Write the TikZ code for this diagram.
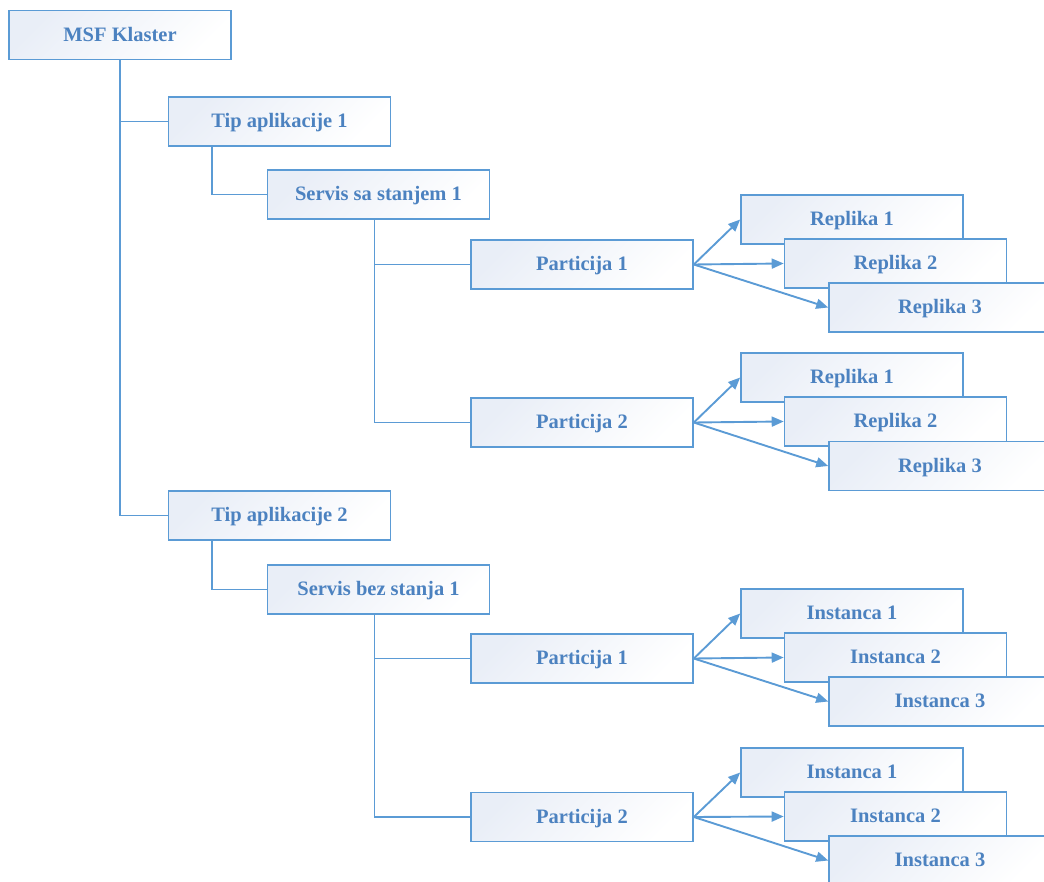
\documentclass[tikz,border=0pt]{standalone}
\usepackage{fontspec}
\setmainfont{Liberation Serif}
\usetikzlibrary{arrows.meta,calc}
\definecolor{boxline}{HTML}{5B9BD5}
\definecolor{boxfill}{HTML}{E9EEF7}
\definecolor{txt}{HTML}{4C82C0}
\begin{document}
\begin{tikzpicture}[x=1pt,y=-1pt,
  box/.style={draw=boxline, line width=1.6pt, minimum width=222pt, minimum height=49pt,
    inner sep=0pt, top color=boxfill, bottom color=white, shading angle=45,
    text height=16pt, text depth=3.6pt,
    font=\fontsize{20.5}{24}\selectfont\bfseries, text=txt},
  link/.style={draw=boxline, line width=1.9pt},
  arr/.style={link, -{Triangle[length=12pt,width=10pt]}}]
\useasboundingbox (0,0) rectangle (1044,882);
\clip (0,0) rectangle (1044,882);

% cluster and application types
\node[box] (msf) at (120,35) {MSF Klaster};
\node[box] (tip1) at (279.5,121.5) {Tip aplikacije 1};
\node[box] (srv1) at (378.5,194.5) {Servis sa stanjem 1};
\node[box] (p11) at (582,264.5) {Particija 1};
\node[box] (p12) at (582,422.5) {Particija 2};
\node[box] (tip2) at (279.5,515.5) {Tip aplikacije 2};
\node[box] (srv2) at (378.5,589.5) {Servis bez stanja 1};
\node[box] (p21) at (582,658.5) {Particija 1};
\node[box] (p22) at (582,817) {Particija 2};

% tree connectors
\draw[link] (msf.south) |- (tip1.west);
\draw[link] (msf.south) |- (tip2.west);
\draw[link] ([xshift=44pt]tip1.south west) |- (srv1.west);
\draw[link] ([xshift=44pt]tip2.south west) |- (srv2.west);
\draw[link] ([xshift=-4pt]srv1.south) |- (p11.west);
\draw[link] ([xshift=-4pt]srv1.south) |- (p12.west);
\draw[link] ([xshift=-4pt]srv2.south) |- (p21.west);
\draw[link] ([xshift=-4pt]srv2.south) |- (p22.west);

% replicas of the stateful service
\node[box] (r11) at (852,219.5) {Replika 1};
\node[box] (r12) at (895.5,263.5) {Replika 2};
\node[box] (r13) at (940,307.5) {Replika 3};
\node[box] (r21) at (852,377.5) {Replika 1};
\node[box] (r22) at (895.5,421.5) {Replika 2};
\node[box] (r23) at (940,466) {Replika 3};

% instances of the stateless service
\node[box] (i11) at (852,613.5) {Instanca 1};
\node[box] (i12) at (895.5,657.5) {Instanca 2};
\node[box] (i13) at (940,701.5) {Instanca 3};
\node[box] (i21) at (852,772.5) {Instanca 1};
\node[box] (i22) at (895.5,816.5) {Instanca 2};
\node[box] (i23) at (940,860.5) {Instanca 3};

% partition arrows
\foreach \p/\a/\b/\c in {p11/r11/r12/r13, p12/r21/r22/r23, p21/i11/i12/i13, p22/i21/i22/i23}{
  \draw[arr] (\p.east) -- (\a.west);
  \draw[arr] (\p.east) -- (\b.west);
  \draw[arr] (\p.east) -- (\c.west);
}
\end{tikzpicture}
\end{document}
